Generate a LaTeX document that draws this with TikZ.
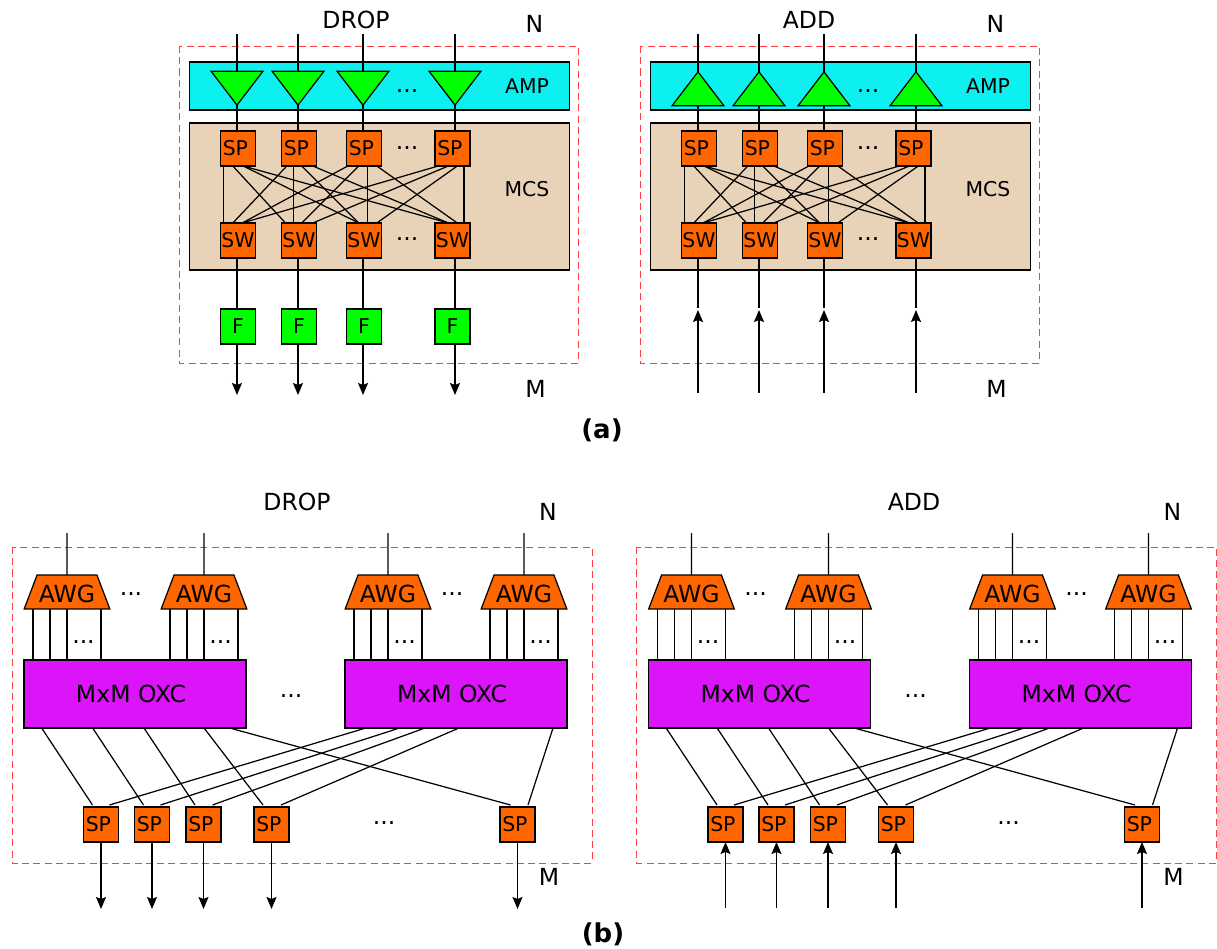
\documentclass[tikz,border=0pt]{standalone}
\usepackage{fontspec}
\setmainfont{DejaVu Sans}
\usetikzlibrary{calc,arrows.meta,shapes.geometric}
\definecolor{ampc}{HTML}{0DF0F0}
\definecolor{mcsc}{HTML}{E8D2B8}
\definecolor{oxcc}{HTML}{DC14FA}
\definecolor{orgc}{HTML}{FF6600}
\definecolor{frame}{HTML}{FF4040}
\begin{document}
\begin{tikzpicture}[x=0.02cm,y=-0.02cm,line width=0.7pt,
lab/.style={font=\fontsize{13.4}{16}\selectfont},
small/.style={font=\fontsize{11.6}{14}\selectfont},
capt/.style={font=\fontsize{14.8}{18}\selectfont\bfseries},
dotsn/.style={lab,anchor=base},
band/.style={shape=rectangle,draw=black,minimum width=7.6cm,inner sep=0pt,outer sep=0pt},
cell/.style={shape=rectangle,draw=black,small,minimum size=0.7cm,inner sep=0pt,outer sep=0pt},
spn/.style={cell,fill=orgc},
fn/.style={cell,fill=green},
tri/.style={shape=isosceles triangle,isosceles triangle stretches,draw=black,fill=green,minimum width=1.04cm,minimum height=0.68cm,inner sep=0pt,outer sep=0pt},
awgn/.style={shape=trapezium,trapezium left angle=60,trapezium right angle=60,trapezium stretches=true,draw=black,fill=orgc,lab,text height=12pt,text depth=0pt,minimum width=1.72cm,minimum height=0.68cm,inner sep=0pt,outer sep=0pt},
oxcn/.style={shape=rectangle,draw=black,fill=oxcc,lab,minimum width=4.44cm,minimum height=1.36cm,inner sep=0pt,outer sep=0pt},
flow/.style={-{Stealth[length=0.24cm,width=0.2cm,inset=0.04cm]}},
dashbox/.style={draw=frame,dash pattern=on 4pt off 2.4pt,line width=0.5pt}]
\def\sptxt{SP\kern3pt}
\useasboundingbox (0,0) rectangle (1217,949);

\foreach \p/\dx/\rot/\ty/\ttl/\tx in {d/0/270/84/DROP/356,a/461/90/93/ADD/348}{
\begin{scope}[shift={(\dx,0)},name prefix=\p-]
\draw[dashbox] (179.5,46) rectangle (578,363);
\node[band,fill=ampc,minimum height=0.96cm] (amp) at (379.5,86) {};
\node[band,fill=mcsc,minimum height=2.94cm] (mcs) at (379.5,196.5) {};
\node[lab] (title) at (\tx,20) {\ttl};
\node[lab] (nlab) at (534.5,24) {N};
\node[lab] (mlab) at (535.5,389) {M};
\node[small] (amplab) at (527,86) {AMP};
\node[small] (mcslab) at (527,189) {MCS};
\node[dotsn] (dotsa) at (407,93) {...};
\node[dotsn] (dotsb) at (407,150) {...};
\node[dotsn] (dotsc) at (407,241) {...};
\foreach \i/\x/\bx in {1/237/238,2/298/299,3/363/364,4/455/452.5}{
\coordinate (top\i) at (\x,34);
\node[tri,shape border rotate=\rot] (tri\i) at (\x,\ty) {};
\node[spn] (sp\i) at (\bx,148.5) {\sptxt};
\node[spn] (sw\i) at (\bx,240.5) {SW};
\draw (top\i) -- (tri\i.north);
\draw (tri\i.south) -- (tri\i.south |- sp\i.north);
}
\foreach \i/\a/\j/\b in {1/3.3/1/3.3,1/12.3/2/4,1/22.7/3/12.3,1/22.7/4/13.3,
2/5.3/1/12.3,2/12/2/12,2/20.3/3/12.3,2/31.3/4/13.3,
3/1.3/1/21.7,3/12.3/2/20.3,3/21.3/3/21.3,3/30.3/4/22.3,
4/3.3/1/21.7,4/13.3/2/31.3,4/22.3/3/30.3,4/29/4/29}{
\draw ($(sp\i.south west)+(\a,0)$) -- ($(sw\j.north west)+(\b,0)$);
}
\end{scope}
}

\begin{scope}[name prefix=d-]
\foreach \i/\x/\bx in {1/237/238,2/298/299,3/363/364,4/455/452.5}{
\node[fn] (f\i) at (\bx,326.5) {F};
\coordinate (out\i) at (\x,395);
\draw (sw\i.south -| out\i) -- (f\i.north -| out\i);
\draw[flow] (f\i.south -| out\i) -- (out\i);
}
\end{scope}
\begin{scope}[shift={(461,0)},name prefix=a-]
\foreach \i/\x in {1/237,2/298,3/363,4/455}{
\coordinate (in\i) at (\x,393);
\coordinate (tip\i) at (\x,310);
\coordinate (end\i) at (\x,308);
\draw (sw\i.south -| end\i) -- (end\i);
\draw[flow] (in\i) -- (tip\i);
}
\end{scope}
\node[capt] (capa) at (602,430) {(a)};

\foreach \p/\dx/\ttl/\tx in {d/0/DROP/297,a/624.5/ADD/289.5}{
\begin{scope}[shift={(\dx,0)},name prefix=b\p-]
\draw[dashbox] (12,547) rectangle (592,863);
\node[lab] (title) at (\tx,502) {\ttl};
\node[lab] (nlab) at (548,512) {N};
\node[lab] (mlab) at (549,877) {M};
\node[oxcn] (oxcA) at (135,694) {MxM OXC\kern4.6pt};
\node[oxcn] (oxcB) at (456,694) {MxM OXC\kern4.6pt};
\node[dotsn] (dotsm) at (291,697) {...};
\node[dotsn] (dotss) at (384,824) {...};
\foreach \i/\x/\o in {1/67/A,2/204/A,3/388/B,4/524/B}{
\coordinate (top\i) at (\x,533);
\node[awgn] (awg\i) at (\x,592) {AWG};
\draw (top\i) -- (awg\i.north);
\foreach \k in {-34,-17,0,34}{
\coordinate (port) at ($(awg\i.south)+(\k,0)$);
\draw (port) -- (port |- oxc\o.north);
}
\node[dotsn] (dotsp\i) at (\x+16.5,643) {...};
}
\node[dotsn] (dotsa) at (131,595) {...};
\node[dotsn] (dotsb) at (452,595) {...};
\foreach \i/\bx in {1/101,2/152,3/203.5,4/271.5,5/517.5}{
\node[spn] (sp\i) at (\bx,824.5) {\sptxt};
}
\foreach \a/\i/\b in {17.6/1/9,68.6/2/9,120/3/9,180/4/9,205.6/5/10.5}{
\draw ($(oxcA.south west)+(\a,0)$) -- ($(sp\i.north west)+(\b,-2)$);
}
\foreach \a/\i/\b in {20.8/1/26,54.6/2/26,80/3/26.5,114/4/27,208/5/28}{
\draw ($(oxcB.south west)+(\a,0)$) -- ($(sp\i.north west)+(\b,-2)$);
}
\end{scope}
}

\foreach \i in {1,...,5}{
\coordinate (bd-out\i) at ($(bd-sp\i.south)+(0,67)$);
\draw[flow] (bd-sp\i.south) -- (bd-out\i);
\coordinate (ba-in\i) at ($(ba-sp\i.south)+(0,66)$);
\draw[flow] (ba-in\i) -- (ba-sp\i.south);
}
\node[capt] (capb) at (603,934) {(b)};
\end{tikzpicture}
\end{document}
